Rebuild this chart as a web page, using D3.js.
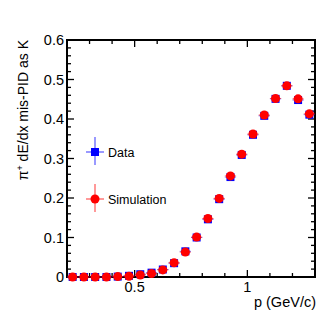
<!DOCTYPE html>
<html>
<head>
<meta charset="utf-8">
<script src="https://cdn.jsdelivr.net/npm/d3@7"></script>
<style>
  body { margin: 0; background: #fff; }
  svg { display: block; font-family: "Liberation Sans", Arial, sans-serif; }
</style>
</head>
<body>
<div id="chart"></div>
<script>
// bin centres in p (GeV/c), bin width 0.05
var pBins = [0.225, 0.275, 0.325, 0.375, 0.425, 0.475, 0.525, 0.575, 0.625, 0.675, 0.725,
             0.775, 0.825, 0.875, 0.925, 0.975, 1.025, 1.075, 1.125, 1.175, 1.225, 1.275];
var dataVals = [0.000, 0.000, 0.000, 0.000, 0.001, 0.003, 0.007, 0.011, 0.019, 0.035, 0.065,
                0.100, 0.146, 0.197, 0.253, 0.309, 0.360, 0.408, 0.451, 0.484, 0.448, 0.411];
var simVals = [0.000, 0.000, 0.000, 0.000, 0.001, 0.002, 0.005, 0.009, 0.018, 0.036, 0.063,
               0.101, 0.148, 0.199, 0.256, 0.311, 0.362, 0.410, 0.452, 0.484, 0.451, 0.413];
var xMajor = [0.5, 1];
var yMajor = [0, 0.1, 0.2, 0.3, 0.4, 0.5, 0.6];
var legendItems = ["Data", "Simulation"];

var W = 332, H = 319;
var margin = {left: 67, top: 40, right: 17, bottom: 42};
var pw = W - margin.left - margin.right, ph = H - margin.top - margin.bottom;
var halfBin = 0.025;

var svg = d3.select("#chart").append("svg").attr("width", W).attr("height", H);
var g = svg.append("g").attr("transform", "translate(" + margin.left + "," + margin.top + ")");

var x = d3.scaleLinear().domain([0.2, 1.3]).range([0, pw]);
var y = d3.scaleLinear().domain([0, 0.6]).range([ph, 0]);

// ticks inside the frame, on all four sides
var xMinor = d3.range(0.3, 1.3001, 0.1).filter(function (v) { return Math.abs(v - 0.5) > 1e-6 && Math.abs(v - 1) > 1e-6; });
var yMinor = d3.range(0, 0.6001, 0.02).filter(function (v) { return Math.abs(v * 10 - Math.round(v * 10)) > 1e-6; });

function addTicks(vals, len, isX) {
	vals.forEach(function (v) {
		if (isX) {
			g.append("line").attr("x1", x(v)).attr("x2", x(v)).attr("y1", ph).attr("y2", ph - len)
				.attr("stroke", "#000").attr("stroke-width", 1.3);
			g.append("line").attr("x1", x(v)).attr("x2", x(v)).attr("y1", 0).attr("y2", len)
				.attr("stroke", "#000").attr("stroke-width", 1.3);
		} else {
			g.append("line").attr("x1", 0).attr("x2", len).attr("y1", y(v)).attr("y2", y(v))
				.attr("stroke", "#000").attr("stroke-width", 1.3);
			g.append("line").attr("x1", pw).attr("x2", pw - len).attr("y1", y(v)).attr("y2", y(v))
				.attr("stroke", "#000").attr("stroke-width", 1.3);
		}
	});
}
addTicks(xMajor, 7, true);
addTicks(xMinor, 4, true);
addTicks(yMajor, 7, false);
addTicks(yMinor, 4, false);

g.append("rect").attr("x", 0).attr("y", 0).attr("width", pw).attr("height", ph)
	.attr("fill", "none").attr("stroke", "#000").attr("stroke-width", 2);

// tick labels
g.selectAll(".xl").data(xMajor).enter().append("text")
	.attr("x", function (d) { return x(d); }).attr("y", ph + 15)
	.attr("text-anchor", "middle").attr("font-size", 14.5)
	.text(function (d) { return d3.format("")(d); });
g.selectAll(".yl").data(yMajor).enter().append("text")
	.attr("x", -3).attr("y", function (d) { return y(d) + 5; })
	.attr("text-anchor", "end").attr("font-size", 14.5)
	.text(function (d) { return d === 0 ? "0" : d3.format(".1f")(d); });

// axis titles
svg.append("text").attr("x", margin.left + pw + 1).attr("y", 307)
	.attr("text-anchor", "end").attr("font-size", 14.5).text("p (GeV/c)");
var yt = svg.append("text").attr("transform", "translate(28," + margin.top + ") rotate(-90)")
	.attr("text-anchor", "end").attr("font-size", 14);
yt.append("tspan").text("\u03c0");
yt.append("tspan").attr("font-size", 9).attr("dy", -5).text("+");
yt.append("tspan").attr("dy", 5).text(" dE/dx mis-PID as K");

// data points with bin-width error bars
function drawSeries(vals, color, shape) {
	var s = g.append("g");
	vals.forEach(function (v, i) {
		var px = x(pBins[i]);
		s.append("line").attr("x1", x(pBins[i] - halfBin)).attr("x2", x(pBins[i] + halfBin))
			.attr("y1", y(v)).attr("y2", y(v)).attr("stroke", color).attr("stroke-opacity", 0.55);
		if (shape === "square") {
			s.append("rect").attr("x", px - 4).attr("y", y(v) - 4).attr("width", 8).attr("height", 8)
				.attr("fill", color);
		} else {
			s.append("circle").attr("cx", px).attr("cy", y(v)).attr("r", 4.5).attr("fill", color);
		}
	});
}
drawSeries(dataVals, "#0000ff", "square");
drawSeries(simVals, "#ff0000", "circle");

// legend
var legColors = ["#0000ff", "#ff0000"];
var legShapes = ["square", "circle"];
legendItems.forEach(function (name, i) {
	var lx = 95, ly = 152 + i * 47;
	var lg = svg.append("g");
	lg.append("line").attr("x1", lx - 9).attr("x2", lx + 9).attr("y1", ly).attr("y2", ly)
		.attr("stroke", legColors[i]).attr("stroke-opacity", 0.8);
	lg.append("line").attr("x1", lx).attr("x2", lx).attr("y1", ly - 15).attr("y2", ly + 13)
		.attr("stroke", legColors[i]).attr("stroke-opacity", 0.8);
	if (legShapes[i] === "square") {
		lg.append("rect").attr("x", lx - 4).attr("y", ly - 4).attr("width", 8).attr("height", 8).attr("fill", legColors[i]);
	} else {
		lg.append("circle").attr("cx", lx).attr("cy", ly).attr("r", 4.5).attr("fill", legColors[i]);
	}
	lg.append("text").attr("x", 108).attr("y", ly + 4.5).attr("font-size", 12.5).text(name);
});
</script>
</body>
</html>
